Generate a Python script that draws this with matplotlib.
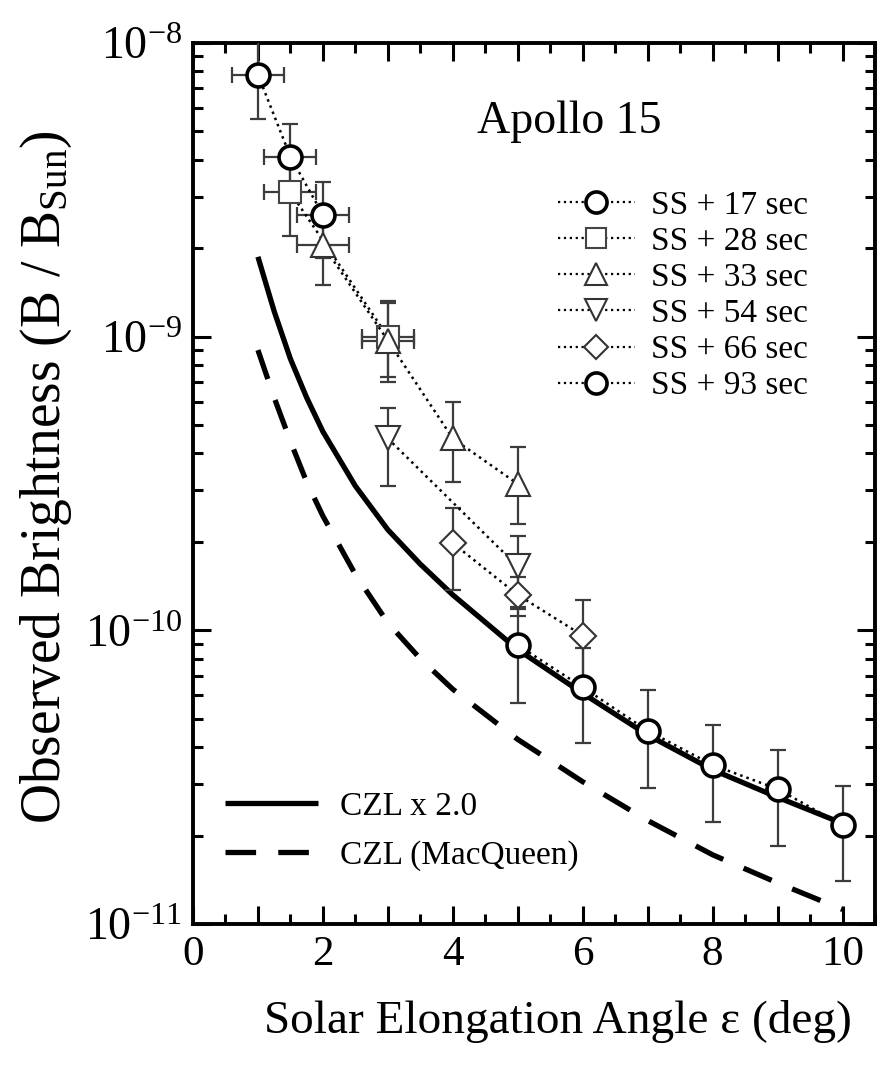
import matplotlib
matplotlib.use('Agg')
import numpy as np
import matplotlib.pyplot as plt
from matplotlib.lines import Line2D
from matplotlib.ticker import MultipleLocator, FuncFormatter, FixedLocator, NullFormatter

plt.rcParams['font.family'] = 'Liberation Serif'
plt.rcParams['mathtext.fontset'] = 'custom'
plt.rcParams['mathtext.rm'] = 'Liberation Serif'
plt.rcParams['mathtext.it'] = 'Liberation Serif:italic'
plt.rcParams['mathtext.bf'] = 'Liberation Serif:bold'

# zodiacal light model curves
czl_x = [1, 1.25, 1.5, 1.75, 2, 2.5, 3, 3.5, 4, 5, 6, 7, 8, 9, 10]
czl_x2 = [1.87e-9, 1.22e-9, 8.4e-10, 6.2e-10, 4.75e-10, 3.1e-10, 2.2e-10,
          1.68e-10, 1.32e-10, 8.6e-11, 6.1e-11, 4.4e-11, 3.35e-11, 2.7e-11,
          2.2e-11]
czl_macqueen = [9.0e-10, 6.2e-10, 4.4e-10, 3.2e-10, 2.45e-10, 1.55e-10,
                1.06e-10, 8.0e-11, 6.3e-11, 4.25e-11, 3.05e-11, 2.25e-11,
                1.72e-11, 1.38e-11, 1.12e-11]

# observations after sunset: elongation, brightness, error bounds, x error
ss17_x = [1, 1.5, 2]
ss17_y = [7.8e-9, 4.1e-9, 2.6e-9]
ss17_lo = [5.5e-9, 2.9e-9, 1.85e-9]
ss17_hi = [1.05e-8, 5.3e-9, 3.35e-9]
ss17_xerr = [0.4, 0.4, 0.4]

ss28_x = [1.5, 3]
ss28_y = [3.1e-9, 1.0e-9]
ss28_lo = [2.2e-9, 7.0e-10]
ss28_hi = [4.0e-9, 1.3e-9]
ss28_xerr = [0.4, 0.4]

ss33_x = [2, 3, 4, 5]
ss33_y = [2.05e-9, 9.7e-10, 4.5e-10, 3.15e-10]
ss33_lo = [1.5e-9, 7.3e-10, 3.2e-10, 2.3e-10]
ss33_hi = [2.6e-9, 1.32e-9, 6.0e-10, 4.2e-10]
ss33_xerr = [0.4, 0.4, 0, 0]

ss54_x = [3, 5]
ss54_y = [4.5e-10, 1.65e-10]
ss54_lo = [3.1e-10, 1.18e-10]
ss54_hi = [5.7e-10, 2.1e-10]

ss66_x = [4, 5, 6]
ss66_y = [1.98e-10, 1.32e-10, 9.6e-11]
ss66_lo = [1.37e-10, 1.12e-10, 6.3e-11]
ss66_hi = [2.6e-10, 1.52e-10, 1.27e-10]

ss93_x = [5, 6, 7, 8, 9, 10]
ss93_y = [8.9e-11, 6.4e-11, 4.55e-11, 3.48e-11, 2.88e-11, 2.17e-11]
ss93_lo = [5.66e-11, 4.14e-11, 2.9e-11, 2.23e-11, 1.85e-11, 1.4e-11]
ss93_hi = [1.2e-10, 8.7e-11, 6.26e-11, 4.76e-11, 3.92e-11, 2.95e-11]

series = [
    ('SS + 17 sec', ss17_x, ss17_y, ss17_lo, ss17_hi, ss17_xerr, 'o', 16.5, 2.6, 'k'),
    ('SS + 28 sec', ss28_x, ss28_y, ss28_lo, ss28_hi, ss28_xerr, 's', 16, 1.5, '#444444'),
    ('SS + 33 sec', ss33_x, ss33_y, ss33_lo, ss33_hi, ss33_xerr, '^', 17, 1.5, '#333333'),
    ('SS + 54 sec', ss54_x, ss54_y, ss54_lo, ss54_hi, None, 'v', 17, 1.5, '#333333'),
    ('SS + 66 sec', ss66_x, ss66_y, ss66_lo, ss66_hi, None, 'D', 13, 1.5, '#333333'),
    ('SS + 93 sec', ss93_x, ss93_y, ss93_lo, ss93_hi, None, 'o', 16.5, 2.6, 'k'),
]

fig = plt.figure(figsize=(8.86, 10.74), dpi=100)
ax = fig.add_axes([0.2178, 0.1397, 0.7698, 0.8203])
ax.set_yscale('log')
ax.set_xlim(0, 10.5)
ax.set_ylim(1e-11, 1e-8)

# model curves
ax.plot(czl_x, czl_x2, color='k', lw=3.8, solid_capstyle='butt', zorder=2)
ax.plot(czl_x, czl_macqueen, color='k', lw=3.8, ls=(0, (5.8, 4.2)),
        dash_capstyle='butt', zorder=2)

handles = []
for label, x, y, lo, hi, xe, mk, ms, mew, mec in series:
    y = np.array(y)
    yerr = [y - np.array(lo), np.array(hi) - y]
    ax.errorbar(x, y, yerr=yerr, xerr=xe, fmt='none', ecolor='#3c3c3c',
                elinewidth=1.6, capsize=5.5, capthick=1.6, zorder=3)
    ax.plot(x, y, ls=':', lw=1.8, color='k', marker=mk, ms=ms, mfc='white',
            mec=mec, mew=mew, zorder=4)
    handles.append(Line2D([], [], ls=':', lw=1.6, color='k', marker=mk,
                          ms=ms * 0.92, mfc='white', mec=mec, mew=mew,
                          label=label))

leg1 = ax.legend(handles=handles, loc='upper left', bbox_to_anchor=(0.535, 0.833),
                 frameon=False, fontsize=24, handlelength=2.3, handletextpad=0.5,
                 labelspacing=0.17, borderpad=0, borderaxespad=0)
ax.add_artist(leg1)

curve_handles = [
    Line2D([], [], color='k', lw=3.8, solid_capstyle='butt', label='CZL x 2.0'),
    Line2D([], [], color='k', lw=3.8, ls=(0, (5.8, 4.2)), dash_capstyle='butt',
           label='CZL (MacQueen)'),
]
ax.legend(handles=curve_handles, loc='lower left', bbox_to_anchor=(0.047, 0.06),
          frameon=False, fontsize=24, handlelength=2.8, handletextpad=0.65,
          labelspacing=0.55, borderpad=0, borderaxespad=0)

ax.text(0.416, 0.898, 'Apollo 15', transform=ax.transAxes, fontsize=33,
        va='baseline', ha='left')

# axes and ticks
ax.xaxis.set_major_locator(MultipleLocator(1))
ax.xaxis.set_minor_locator(MultipleLocator(0.5))
ax.xaxis.set_major_formatter(
    FuncFormatter(lambda v, p: f'{int(round(v))}' if round(v) % 2 == 0 else ''))
decades = [-11, -10, -9, -8]
ax.yaxis.set_major_locator(FixedLocator([10.0 ** e for e in decades]))
ax.yaxis.set_minor_locator(
    FixedLocator([m * 10.0 ** e for e in decades[:-1] for m in range(2, 10)]))
ax.yaxis.set_minor_formatter(NullFormatter())
ax.tick_params(which='both', direction='in', top=True, right=True, width=2.2)
ax.tick_params(which='major', length=13, pad=8)
ax.tick_params(axis='x', which='major', labelsize=31)
ax.tick_params(axis='y', which='major', labelsize=33)
ax.tick_params(which='minor', length=7)
for sp in ax.spines.values():
    sp.set_linewidth(2.8)

ax.set_xlabel('Solar Elongation Angle \u03b5 (deg)', fontsize=34)
ax.xaxis.set_label_coords(0.535, -0.086)
ax.set_ylabel('Observed Brightness (B / B$_{\\mathrm{Sun}}$)', fontsize=40)
ax.yaxis.set_label_coords(-0.175, 0.507)

fig.savefig('out.png', dpi=100)
